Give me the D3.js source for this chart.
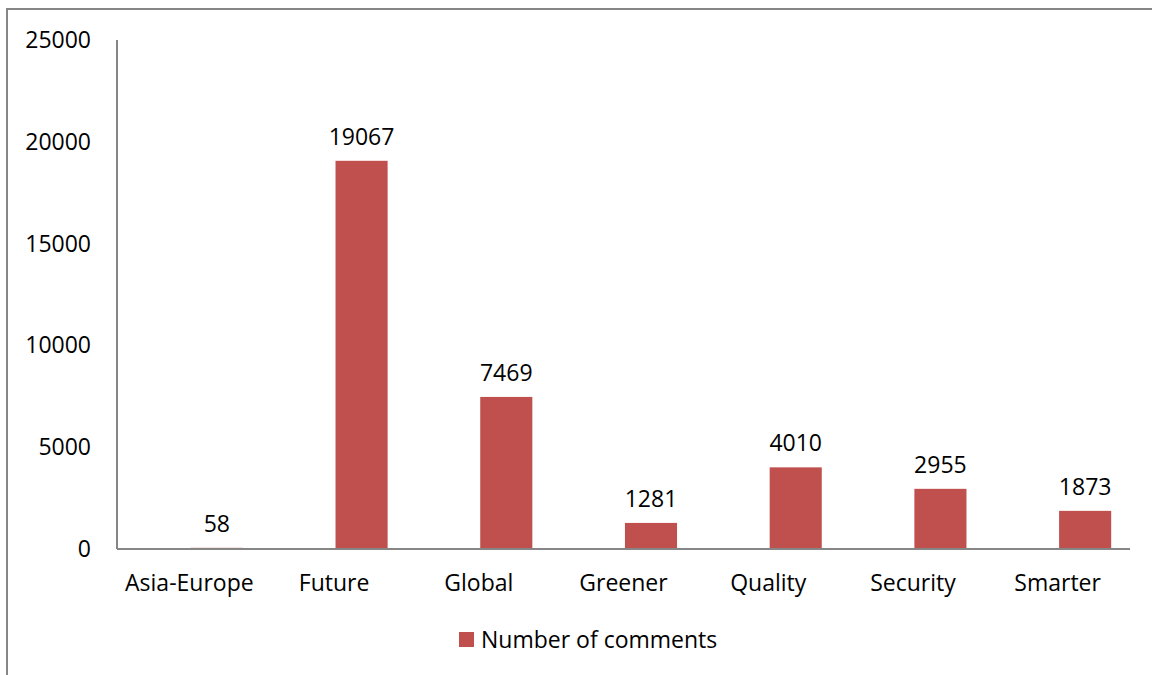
<!DOCTYPE html>
<html>
<head>
  <meta charset="utf-8">
  <script src="https://d3js.org/d3.v7.min.js"></script>
  <style>
  body{ margin:0; background:#fff; }
  svg text{ font-family:"Open Sans", "Liberation Sans", sans-serif; fill:#000; font-size:23px; }
  .bar{ fill:#C0504D; }
  </style>
</head>
<body>
  <svg width="1152" height="675"></svg>
<script>
var categories = ["Asia-Europe", "Future", "Global", "Greener", "Quality", "Security", "Smarter"];
var comments = [58, 19067, 7469, 1281, 4010, 2955, 1873];
var yTicks = [0, 5000, 10000, 15000, 20000, 25000];
var seriesName = "Number of comments";

var svg = d3.select("svg"),
    margin = {top:40, right:22, bottom:126, left:117},
    width = +svg.attr("width") - margin.left - margin.right,
    height = +svg.attr("height") - margin.top - margin.bottom;

// chart frame (runs off the right and bottom edges)
svg.append("rect")
  .attr("x", 7).attr("y", 9)
  .attr("width", 1160).attr("height", 690)
  .attr("fill", "none")
  .attr("stroke", "#868686")
  .attr("stroke-width", 2);

var x = d3.scaleBand().domain(categories).range([0, width]),
    y = d3.scaleLinear().domain([0, 25000]).range([height, 0]);

var g = svg.append("g")
  .attr("transform", "translate(" + margin.left + "," + margin.top + ")");

// y axis labels, no tick marks
g.selectAll(".ylab")
  .data(yTicks)
  .enter().append("text")
  .attr("class", "ylab")
  .attr("x", -26)
  .attr("y", function(d){ return y(d); })
  .attr("dy", "0.35em")
  .attr("text-anchor", "end")
  .text(function(d){ return d; });

// bars sit in the right half of each band
var bw = x.bandwidth();
g.selectAll(".bar")
  .data(comments)
  .enter().append("rect")
  .attr("class", "bar")
  .attr("x", function(d, i){ return x(categories[i]) + bw * 0.51; })
  .attr("y", function(d){ return y(d); })
  .attr("width", bw * 0.36)
  .attr("height", function(d){ return height - y(d); });

g.selectAll(".vlab")
  .data(comments)
  .enter().append("text")
  .attr("class", "vlab")
  .attr("x", function(d, i){ return x(categories[i]) + bw * 0.69; })
  .attr("y", function(d){ return y(d) - 16; })
  .attr("text-anchor", "middle")
  .text(function(d){ return d; });

// axes lines
g.append("line")
  .attr("x1", 0).attr("x2", 0).attr("y1", 0).attr("y2", height)
  .attr("stroke", "#868686").attr("stroke-width", 2);
g.append("line")
  .attr("x1", 0).attr("x2", width).attr("y1", height).attr("y2", height)
  .attr("stroke", "#868686").attr("stroke-width", 2);

g.selectAll(".xlab")
  .data(categories)
  .enter().append("text")
  .attr("class", "xlab")
  .attr("x", function(d){ return x(d) + bw / 2; })
  .attr("y", height + 42)
  .attr("text-anchor", "middle")
  .text(function(d){ return d; });

// legend
var legend = svg.append("g").attr("transform", "translate(459,632)");
legend.append("rect")
  .attr("width", 15).attr("height", 15)
  .attr("class", "bar");
legend.append("text")
  .attr("x", 22).attr("y", 16)
  .text(seriesName);
</script>
</body>
</html>
